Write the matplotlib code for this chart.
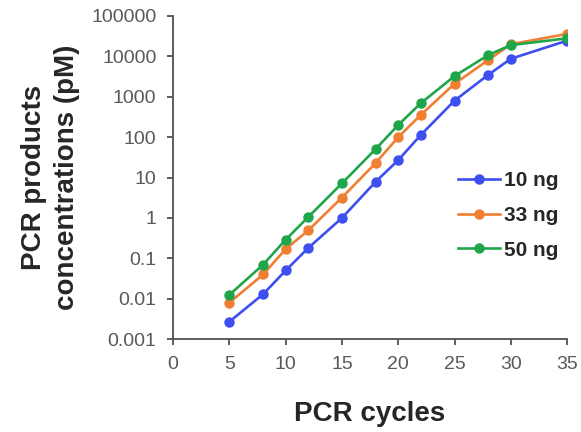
import matplotlib
matplotlib.use("Agg")
import matplotlib.pyplot as plt
from matplotlib.ticker import FixedLocator, FixedFormatter

cycles = [5, 8, 10, 12, 15, 18, 20, 22, 25, 28, 30, 35]
conc_10ng = [0.0027, 0.013, 0.05, 0.18, 1.0, 7.9, 27, 113, 800, 3500, 8700, 24500]
conc_33ng = [0.008, 0.04, 0.17, 0.49, 3.2, 23, 100, 355, 2100, 8100, 20000, 36000]
conc_50ng = [0.0125, 0.07, 0.29, 1.05, 7.2, 51, 200, 690, 3250, 10800, 19000, 28000]
series_labels = ["10 ng", "33 ng", "50 ng"]
y_ticks = [0.001, 0.01, 0.1, 1, 10, 100, 1000, 10000, 100000]
y_tick_labels = ["0.001", "0.01", "0.1", "1", "10", "100", "1000", "10000", "100000"]
x_ticks = [0, 5, 10, 15, 20, 25, 30, 35]

COLORS = ["#3d4ff0", "#f07f32", "#20a64a"]
AXIS_COLOR = "#595959"
TEXT_COLOR = "#262626"

plt.rcParams["font.family"] = ["Liberation Sans", "DejaVu Sans"]

fig = plt.figure(figsize=(5.81, 4.32), dpi=100)
ax = fig.add_axes([0.298, 0.215, 0.678, 0.748])

for vals, label, color in zip([conc_10ng, conc_33ng, conc_50ng], series_labels, COLORS):
    ax.plot(cycles, vals, color=color, linewidth=1.9, marker="o", markersize=6.5,
            label=label, zorder=3)

ax.set_yscale("log")
ax.set_ylim(0.001, 100000)
ax.set_xlim(0, 35)
ax.yaxis.set_major_locator(FixedLocator(y_ticks))
ax.yaxis.set_major_formatter(FixedFormatter(y_tick_labels))
ax.yaxis.set_minor_locator(FixedLocator([]))
ax.set_xticks(x_ticks)

for side in ["top", "right"]:
    ax.spines[side].set_visible(False)
for side in ["left", "bottom"]:
    ax.spines[side].set_color("#505050")
    ax.spines[side].set_linewidth(1.3)

ax.tick_params(axis="both", colors="#505050", labelcolor=AXIS_COLOR,
               labelsize=14, length=4, width=1.3, direction="out", pad=8)

ax.set_xlabel("PCR cycles", fontsize=20, fontweight="bold", color=TEXT_COLOR, labelpad=20)
ax.set_ylabel("PCR products\nconcentrations (pM)", fontsize=20, fontweight="bold",
              color=TEXT_COLOR, labelpad=8, linespacing=1.35)

leg = ax.legend(loc="upper left", bbox_to_anchor=(0.703, 0.545), frameon=False,
                prop={"weight": "bold", "size": 15}, handlelength=2.0,
                handletextpad=0.2, labelspacing=0.75, borderaxespad=0)
for t in leg.get_texts():
    t.set_color(TEXT_COLOR)

fig.savefig("out.png", dpi=100)
